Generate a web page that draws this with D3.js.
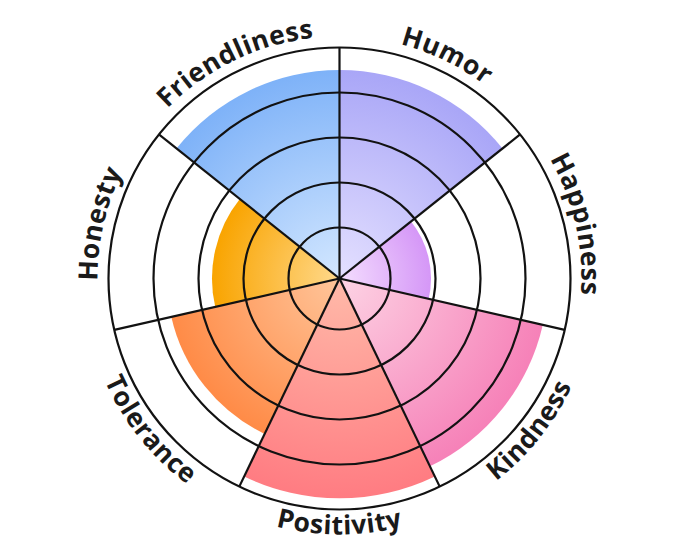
<!DOCTYPE html>
<html>
<head>
<meta charset="utf-8">
<script src="https://cdn.jsdelivr.net/npm/d3@7"></script>
<style>
  html, body { margin: 0; padding: 0; background: #ffffff; }
  svg { display: block; }
</style>
</head>
<body>
<svg id="chart" width="680" height="557"></svg>
<script>
// ---- data ----
const categories = ["Humor", "Happiness", "Kindness", "Positivity", "Tolerance", "Honesty", "Friendliness"];
const values = [4.5, 1.9, 4.5, 4.75, 3.7, 2.7, 4.5];
const ringTicks = [1, 2, 3, 4, 5];
const outerColors = ["#a9a6f7", "#d597f7", "#f681b8", "#ff7c82", "#ff8b47", "#f9a400", "#7eb2f8"];
const innerColors = ["#e4e0ff", "#f4defe", "#fdd3e4", "#ffbaa9", "#ffc59a", "#ffd98c", "#d3e7ff"];

// ---- layout ----
const width = 680, height = 557;
const cx = 339.5, cy = 278.5;
const svg = d3.select("#chart");
const defs = svg.append("defs");
const g = svg.append("g").attr("transform", `translate(${cx},${cy})`);

const angle = d3.scaleBand().domain(categories).range([0, 2 * Math.PI]).paddingInner(0).paddingOuter(0);
const radius = d3.scaleLinear().domain([0, 5]).range([6, 231]);

categories.forEach((c, i) => {
  const grad = defs.append("radialGradient")
    .attr("id", "grad" + i)
    .attr("gradientUnits", "userSpaceOnUse")
    .attr("cx", 0).attr("cy", 0).attr("r", radius(values[i]));
  grad.append("stop").attr("offset", "0%").attr("stop-color", innerColors[i]);
  grad.append("stop").attr("offset", "100%").attr("stop-color", outerColors[i]);
});

const arc = d3.arc()
  .innerRadius(0)
  .outerRadius(d => radius(d.value))
  .startAngle(d => angle(d.cat))
  .endAngle(d => angle(d.cat) + angle.bandwidth());

const data = categories.map((c, i) => ({ cat: c, value: values[i], idx: i }));

g.selectAll("path.seg")
  .data(data)
  .join("path")
  .attr("class", "seg")
  .attr("d", d => arc(d))
  .attr("fill", d => `url(#grad${d.idx})`);

// rings
g.selectAll("circle.ring")
  .data(ringTicks)
  .join("circle")
  .attr("class", "ring")
  .attr("r", d => radius(d))
  .attr("fill", "none")
  .attr("stroke", "#121212")
  .attr("stroke-width", 2.2);

// spokes
g.selectAll("line.spoke")
  .data(categories)
  .join("line")
  .attr("class", "spoke")
  .attr("x1", 0).attr("y1", 0)
  .attr("x2", d => radius(5) * Math.sin(angle(d)))
  .attr("y2", d => -radius(5) * Math.cos(angle(d)))
  .attr("stroke", "#121212")
  .attr("stroke-width", 2.2);

// curved labels
function pt(r, a) { return [r * Math.sin(a), -r * Math.cos(a)]; }
const span = 1.4;
data.forEach((d, i) => {
  const mid = angle(d.cat) + angle.bandwidth() / 2;
  const bottom = Math.cos(mid) < -0.2;
  const R = bottom ? 256 : 242;
  const a0 = mid - span, a1 = mid + span;
  const p0 = pt(R, a0), p1 = pt(R, a1);
  const path = bottom
    ? `M${p1[0]},${p1[1]} A${R},${R} 0 0 0 ${p0[0]},${p0[1]}`
    : `M${p0[0]},${p0[1]} A${R},${R} 0 0 1 ${p1[0]},${p1[1]}`;
  defs.append("path").attr("id", "lp" + i).attr("d", path);
  g.append("text")
    .attr("font-family", "'Open Sans', 'Noto Sans', sans-serif")
    .attr("font-weight", 700)
    .attr("font-size", 26.5)
    .attr("letter-spacing", 0.5)
    .attr("fill", "#1a1a1a")
    .append("textPath")
    .attr("href", "#lp" + i)
    .attr("startOffset", "50%")
    .attr("text-anchor", "middle")
    .text(d.cat);
});
</script>
</body>
</html>
